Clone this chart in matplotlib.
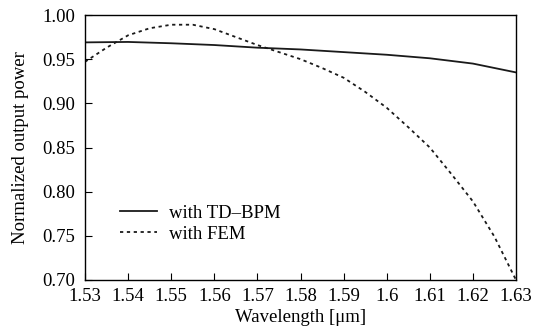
import matplotlib
matplotlib.use("Agg")
import matplotlib.pyplot as plt

# data
wl_bpm = [1.53, 1.54, 1.55, 1.56, 1.57, 1.58, 1.59, 1.60, 1.61, 1.62, 1.63]
p_bpm = [0.969, 0.9695, 0.968, 0.966, 0.963, 0.961, 0.958, 0.955, 0.951, 0.945, 0.935]

wl_fem = [1.530, 1.535, 1.540, 1.545, 1.550, 1.555, 1.560, 1.565, 1.570, 1.575,
          1.580, 1.585, 1.590, 1.595, 1.600, 1.605, 1.610, 1.615, 1.620, 1.625, 1.630]
p_fem = [0.947, 0.963, 0.977, 0.985, 0.989, 0.989, 0.984, 0.975, 0.966, 0.958,
         0.950, 0.940, 0.929, 0.913, 0.895, 0.873, 0.850, 0.820, 0.789, 0.749, 0.700]

xticks = [1.53, 1.54, 1.55, 1.56, 1.57, 1.58, 1.59, 1.60, 1.61, 1.62, 1.63]
xlabels = ["1.53", "1.54", "1.55", "1.56", "1.57", "1.58", "1.59", "1.6", "1.61", "1.62", "1.63"]
yticks = [0.70, 0.75, 0.80, 0.85, 0.90, 0.95, 1.00]

plt.rcParams["font.family"] = ["Liberation Serif", "DejaVu Serif"]
plt.rcParams["font.size"] = 13.5

fig = plt.figure(figsize=(5.37, 3.33), dpi=100)
ax = fig.add_axes([85 / 537, 1 - 280 / 333, 431 / 537, 265 / 333])

ax.plot(wl_bpm, p_bpm, color="#1a1a1a", lw=1.3, label="with TD\u2013BPM")
ax.plot(wl_fem, p_fem, color="#1a1a1a", lw=1.3, linestyle=(0, (1.8, 2.0)), label="with FEM")

ax.set_xlim(1.53, 1.63)
ax.set_ylim(0.70, 1.00)
ax.set_xticks(xticks)
ax.set_xticklabels(xlabels)
ax.set_yticks(yticks)
ax.set_yticklabels(["%.2f" % v for v in yticks])
ax.tick_params(direction="in", length=5, width=0.8, top=False, right=False)
ax.tick_params(axis="x", pad=6)
ax.tick_params(axis="y", pad=7)
for s in ax.spines.values():
    s.set_linewidth(1.0)

ax.set_xlabel("Wavelength [\u03bcm]", labelpad=3)
ax.set_ylabel("Normalized output power", labelpad=10)

ax.legend(loc="center left", bbox_to_anchor=(0.041, 0.213), frameon=False,
          handlelength=2.0, handletextpad=0.65, labelspacing=0.2, fontsize=13.5)

fig.savefig("out.png", dpi=100)
